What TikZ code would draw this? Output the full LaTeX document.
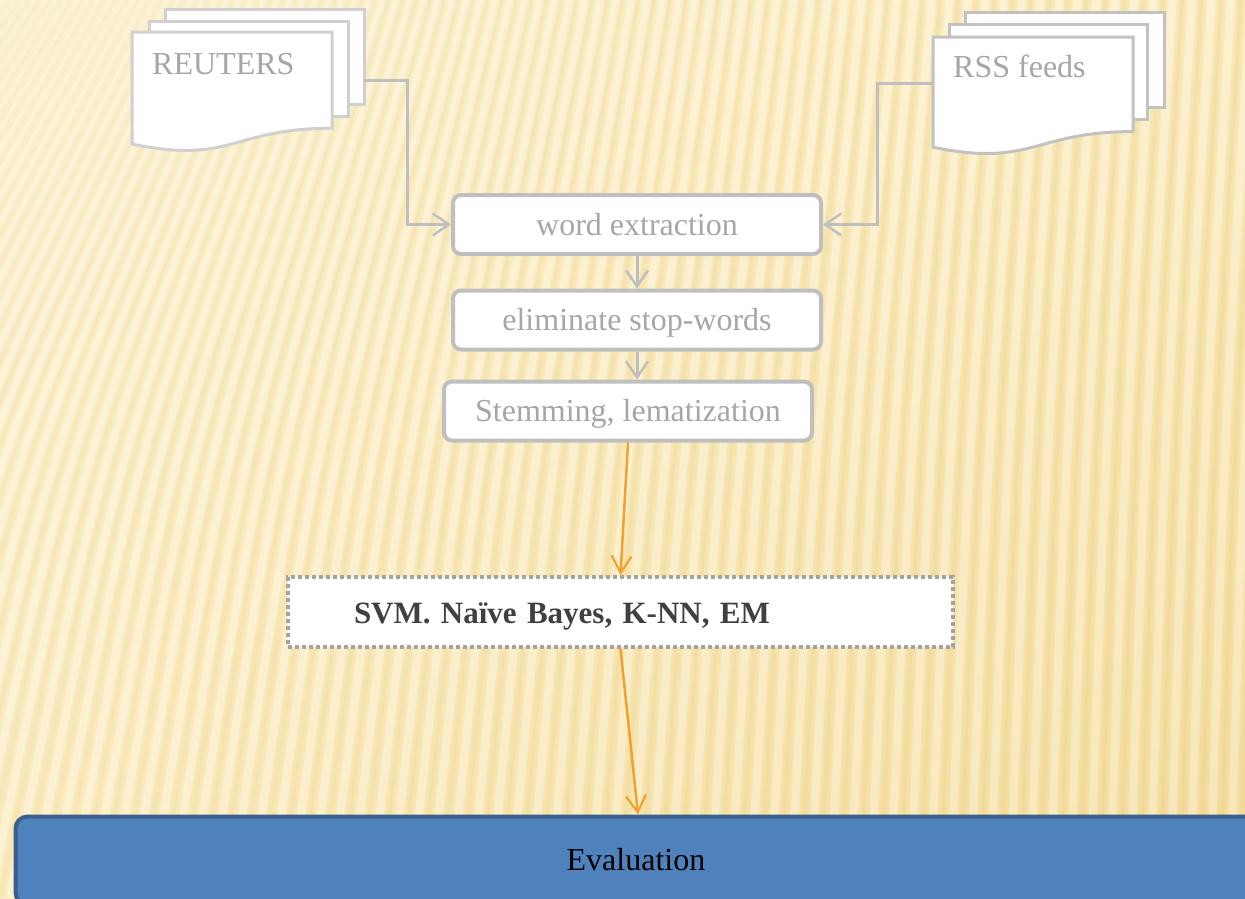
\documentclass[tikz,border=0pt]{standalone}
\usepackage{fontspec}
\setmainfont{Liberation Serif}
\usetikzlibrary{arrows.meta,shadings}

\definecolor{procgray}{HTML}{BFBFBF}
\definecolor{txtgray}{HTML}{A6A6A6}
\definecolor{docA}{HTML}{D0D0D0}
\definecolor{docB}{HTML}{C2C2C2}
\definecolor{flow}{HTML}{F2A12E}
\definecolor{evalfill}{HTML}{4F81BD}
\definecolor{evalline}{HTML}{3B5F8D}
\definecolor{dotgray}{HTML}{A3A3A3}
\definecolor{algotext}{HTML}{404040}
\definecolor{ridge}{HTML}{E9CC80}
\definecolor{paperUL}{RGB}{253,243,210}
\definecolor{paperUR}{RGB}{251,236,190}
\definecolor{paperLL}{RGB}{251,236,192}
\definecolor{paperLR}{RGB}{244,221,158}

\begin{document}
\begin{tikzpicture}[x=1pt,y=-1pt,
  every node/.style={font=\fontsize{32}{38}\selectfont, inner sep=0pt,
    text height=24pt, text depth=3pt},
  procbox/.style={draw=procgray, line width=4pt, fill=white, rounded corners=8pt,
    minimum width=368pt, minimum height=59pt, text=txtgray},
  algobox/.style={draw=dotgray, line width=4pt, fill=white,
    dash pattern=on 4pt off 3pt, minimum height=70pt,
    text width=533pt, align=left, inner xsep=66pt, text depth=2pt,
    font=\fontsize{31}{37}\selectfont\bfseries, text=algotext},
  evalbox/.style={draw=evalline, line width=4pt, fill=evalfill, rounded corners=12pt,
    minimum width=1241pt, minimum height=88pt, text=black, text depth=4pt},
  page/.style={line width=3pt, fill=white},
  doclabel/.style={anchor=base west, text=txtgray},
  grayflow/.style={draw=procgray, line width=3pt,
    -{Straight Barb[length=16pt,width=22pt,line width=2.5pt]}},
  orangeflow/.style={draw=flow, line width=2.5pt,
    -{Straight Barb[length=17pt,width=20pt,line width=2.2pt]}}
]
\useasboundingbox (0,0) rectangle (1245,898);
\clip (0,0) rectangle (1245,898);

% ribbed paper background: ridges lean more towards the upper left
\shade[upper left=paperUL, upper right=paperUR,
       lower left=paperLL, lower right=paperLR]
  (0,0) rectangle (1245,898);
\foreach \u in {-540,-520,...,1280}{
  \pgfmathsetmacro\sb{0.03+0.17*(1-\u/1245)^2}
  \pgfmathsetmacro\op{0.5+0.5*max(0,min(1,\u/1245))}
  \draw[ridge, line width=9pt, opacity=0.14*\op]
    (\u,898) .. controls ({\u+\sb*449},449) .. ({\u+1.5*\sb*898},0);
  \draw[ridge, line width=4pt, opacity=0.22*\op]
    (\u,898) .. controls ({\u+\sb*449},449) .. ({\u+1.5*\sb*898},0);
  \draw[white, line width=8pt, opacity=0.28]
    ({\u+10},898) .. controls ({\u+10+\sb*449},449) .. ({\u+10+1.5*\sb*898},0);
}

% REUTERS document stack
\draw[page, draw=docA] (165,9) rectangle (364,104);
\draw[page, draw=docA] (149,21) rectangle (348,116);
\draw[page, draw=docA] (132,32) -- (332,32) -- (332,128.2)
  .. controls (232,128.2) and (232,164.9) .. (132,144) -- cycle;
\node[doclabel] (reuters) at (152,74) {REUTERS};
\coordinate (reutersOut) at (364,80);

% RSS document stack
\draw[page, draw=docB] (965,12) rectangle (1164,107);
\draw[page, draw=docB] (949,24) rectangle (1147,119);
\draw[page, draw=docB] (933,37) -- (1133,37) -- (1133,131.6)
  .. controls (1033,131.6) and (1033,167.7) .. (933,147.2) -- cycle;
\node[doclabel] (rss) at (953,77) {RSS feeds};
\coordinate (rssOut) at (933,83);

% preprocessing chain
\node[procbox] (wx) at (637,224.5) {word extraction};
\node[procbox] (es) at (637,320) {eliminate stop-words};
\node[procbox] (sl) at (628,411) {Stemming, lematization};

% classifiers
\node[algobox] (svm) at (620.5,612) {SVM. Naïve Bayes, K-NN, EM};

% evaluation bar
\node[evalbox] (eval) at (636,860.5) {Evaluation};

% connectors
\draw[grayflow] (reutersOut) -- ++(43,0) |- (wx.west);
\draw[grayflow] (rssOut) -- ++(-56,0) |- (wx.east);
\draw[grayflow] (wx.south) -- (es.north);
\draw[grayflow] (es.south) -- (es.south |- sl.north);
\draw[orangeflow] (sl.south) -- (svm.north);
\draw[orangeflow] (svm.south) -- ([xshift=2pt]eval.north);
\end{tikzpicture}
\end{document}
